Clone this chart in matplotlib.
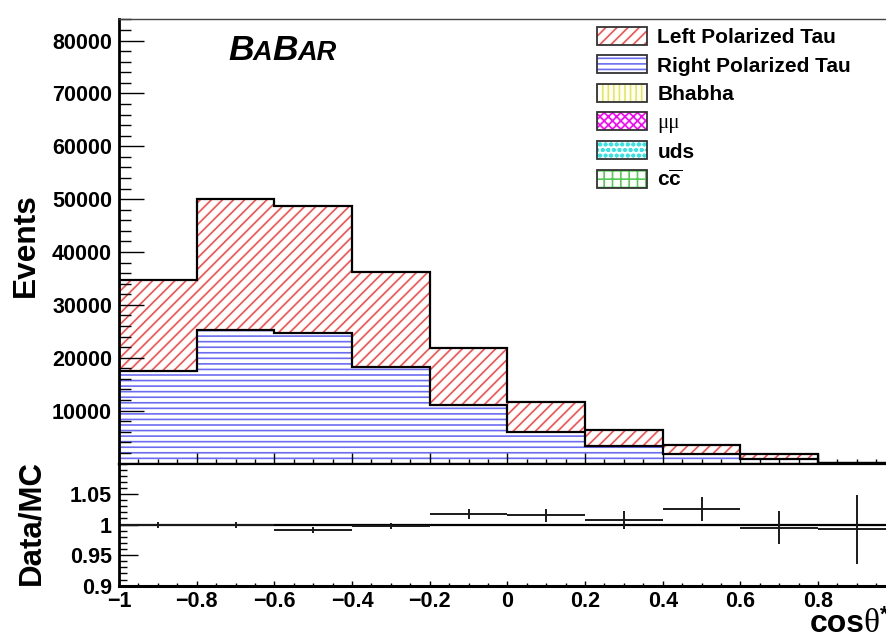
import numpy as np
import matplotlib
matplotlib.use("Agg")
import matplotlib.pyplot as plt
from matplotlib.patches import Patch
from matplotlib.legend_handler import HandlerTuple
from matplotlib.ticker import MultipleLocator, FixedLocator, FixedFormatter

# ---------------- data ----------------
bin_edges = [-1.0, -0.8, -0.6, -0.4, -0.2, 0.0, 0.2, 0.4, 0.6, 0.8, 1.0]
right_tau = [17556, 25255, 24750, 18313, 11010, 6020, 3370, 1800, 910, 50]
left_tau = [17158, 24785, 23960, 17907, 10780, 5560, 2970, 1760, 940, 50]
bhabha = [0, 0, 0, 0, 0, 0, 0, 0, 0, 0]
mumu = [0, 0, 0, 0, 0, 0, 0, 0, 0, 0]
uds = [0, 0, 0, 0, 0, 0, 0, 0, 0, 0]
ccbar = [0, 0, 0, 0, 0, 0, 0, 0, 0, 0]

ratio_x = [-0.9, -0.7, -0.5, -0.3, -0.1, 0.1, 0.3, 0.5, 0.7, 0.9]
ratio_y = [1.000, 0.9988, 0.9912, 0.9977, 1.0168, 1.0152, 1.0075, 1.0255, 0.9945, 0.9923]
ratio_err = [0.005, 0.005, 0.005, 0.0055, 0.0082, 0.011, 0.014, 0.019, 0.027, 0.056]

y_ticks = [10000, 20000, 30000, 40000, 50000, 60000, 70000, 80000]
y_ticklabels = ["10000", "20000", "30000", "40000", "50000", "60000", "70000", "80000"]
r_yticks = [0.9, 0.95, 1.0, 1.05]
r_yticklabels = ["0.9", "0.95", "1", "1.05"]
x_ticks = [-1.0, -0.8, -0.6, -0.4, -0.2, 0.0, 0.2, 0.4, 0.6, 0.8, 1.0]
x_ticklabels = ["\u22121", "\u22120.8", "\u22120.6", "\u22120.4", "\u22120.2", "0", "0.2", "0.4", "0.6", "0.8", ""]

legend_labels = ["Left Polarized Tau", "Right Polarized Tau", "Bhabha", "\u03bc\u03bc", "uds",
                 r"c$\overline{\mathrm{c}}$"]

# ---------------- style ----------------
plt.rcParams["font.family"] = ["Liberation Sans", "DejaVu Sans"]
plt.rcParams["font.weight"] = "bold"
plt.rcParams["hatch.linewidth"] = 1.2
plt.rcParams["mathtext.fontset"] = "custom"
plt.rcParams["mathtext.rm"] = "Liberation Sans:bold"
plt.rcParams["mathtext.bf"] = "Liberation Sans:bold"

RED = "#ff4d4d"
BLUE = "#6c6cf0"
YEL = "#e8e84a"
MAG = "#ff00ff"
CYA = "#33e5e5"
GRN = "#55cc55"

W, H = 886, 638
fig = plt.figure(figsize=(W / 100, H / 100), dpi=100)

x_left, x_right = 119, 895.7
top_y0, top_y1 = 463.5, 18.5
r_y0, r_y1 = 585.7, 463.5

ax = fig.add_axes([x_left / W, 1 - top_y0 / H, (x_right - x_left) / W, (top_y0 - top_y1) / H])
rax = fig.add_axes([x_left / W, 1 - r_y0 / H, (x_right - x_left) / W, (r_y0 - r_y1) / H], sharex=ax)

edges = np.array(bin_edges)
widths = np.diff(edges)
r = np.array(right_tau, float)
l = np.array(left_tau, float)
others = [np.array(a, float) for a in (bhabha, mumu, uds, ccbar)]
base = np.zeros_like(r)
for arr in others:
    base = base + arr

# stacked fills
ax.bar(edges[:-1], r, width=widths, bottom=base, align="edge", facecolor="white",
       edgecolor=BLUE, hatch="---", linewidth=0)
ax.bar(edges[:-1], l, width=widths, bottom=base + r, align="edge", facecolor="white",
       edgecolor=RED, hatch="///", linewidth=0)
# outlines
ax.stairs(base + r, edges, baseline=None, color="black", lw=1.6)
ax.stairs(base + r + l, edges, baseline=None, color="black", lw=1.6)

ax.set_xlim(-1, 1)
ax.set_ylim(0, (top_y0 - top_y1) / 52.86 * 10000)

ax.yaxis.set_major_locator(FixedLocator(y_ticks))
ax.yaxis.set_major_formatter(FixedFormatter(y_ticklabels))
ax.yaxis.set_minor_locator(MultipleLocator(2000))
ax.xaxis.set_major_locator(FixedLocator(x_ticks))
ax.xaxis.set_minor_locator(MultipleLocator(0.05))
ax.tick_params(axis="x", which="both", direction="in", labelbottom=False, width=1)
ax.tick_params(axis="x", which="major", length=8)
ax.tick_params(axis="x", which="minor", length=3.8)
ax.tick_params(axis="y", which="both", direction="in", width=1, labelsize=15.5, pad=5)
ax.tick_params(axis="y", which="major", length=18)
ax.tick_params(axis="y", which="minor", length=8.6)
for lab in ax.get_yticklabels():
    lab.set_fontweight("bold")
ax.spines["left"].set_linewidth(2.0)
ax.spines["bottom"].set_linewidth(1.6)
ax.spines["top"].set_linewidth(1.0)
ax.spines["top"].set_color("#444444")
ax.spines["right"].set_visible(False)

ax.set_ylabel("Events", fontsize=22.8, fontweight="bold")
ax.yaxis.set_label_coords((41 - x_left) / (x_right - x_left), 0.49)

# ---------------- ratio panel ----------------
rax.axhline(1.0, color="black", lw=1.6)
rax.errorbar(ratio_x, ratio_y, yerr=ratio_err, xerr=0.1, fmt="none", ecolor="#1a1a1a",
             elinewidth=1.4, capsize=0)
rax.set_ylim(0.9, 1.1)
rax.yaxis.set_major_locator(FixedLocator(r_yticks))
rax.yaxis.set_major_formatter(FixedFormatter(r_yticklabels))
rax.yaxis.set_minor_locator(MultipleLocator(0.01))
rax.xaxis.set_major_locator(FixedLocator(x_ticks))
rax.xaxis.set_major_formatter(FixedFormatter(x_ticklabels))
rax.xaxis.set_minor_locator(MultipleLocator(0.05))
rax.tick_params(axis="both", which="both", direction="in", width=1, labelsize=15.5)
rax.tick_params(axis="x", which="major", length=3.5, pad=4)
rax.tick_params(axis="x", which="minor", length=2)
rax.tick_params(axis="y", which="major", length=14, pad=5)
rax.tick_params(axis="y", which="minor", length=6)
for lab in rax.get_xticklabels() + rax.get_yticklabels():
    lab.set_fontweight("bold")
rax.spines["left"].set_linewidth(2.0)
rax.spines["bottom"].set_linewidth(2.2)
rax.spines["top"].set_linewidth(1.6)
rax.spines["right"].set_visible(False)
rax.set_ylabel("Data/MC", fontsize=22.5, fontweight="bold")
rax.yaxis.set_label_coords((46 - x_left) / (x_right - x_left), 0.52)

# ---------------- legend ----------------
specs = [(RED, "///"), (BLUE, "---"), (YEL, "|||"), (MAG, "xxxx"), (CYA, "ooo"), (GRN, "++")]
handles = []
for c, h in specs:
    handles.append((Patch(facecolor="white", edgecolor=c, hatch=h, linewidth=0),
                    Patch(facecolor="none", edgecolor="#333333", linewidth=1.3)))
leg = fig.legend(handles, legend_labels, handler_map={tuple: HandlerTuple(ndivide=1, pad=0)},
                 loc="upper left", bbox_to_anchor=(597 / W, 1 - 27 / H), frameon=False,
                 fontsize=15, handlelength=2.4, handleheight=0.96, handletextpad=0.5,
                 labelspacing=0.39, borderpad=0, borderaxespad=0)
for t in leg.get_texts():
    t.set_fontweight("bold")
mu = leg.get_texts()[3]
mu.set_fontfamily(["Liberation Serif", "DejaVu Serif"])
mu.set_fontweight("normal")

# ---------------- BaBar logo ----------------
fig.canvas.draw()
renderer = fig.canvas.get_renderer()
pieces = [("B", 25.5), ("A", 19.5), ("B", 25.5), ("AR", 19.5)]
xpos = 228.0
for s, fs in pieces:
    t = fig.text(xpos / W, 1 - 59.5 / H, s, fontsize=fs, fontweight="bold", fontstyle="italic",
                 va="baseline", ha="left")
    bb = t.get_window_extent(renderer)
    xpos += bb.width - 0.5

# ---------------- x label ----------------
xpos = 810.0
for s, fam, fs, dy, gap in [("cos", ["Liberation Sans"], 23, 0, -1.5),
                            ("\u03b8", ["Liberation Serif"], 24, 0, 0),
                            ("*", ["Liberation Sans"], 16, 11, 0)]:
    t = fig.text(xpos / W, 1 - (632 - dy) / H, s, fontsize=fs,
                 fontweight="bold" if fam[0] == "Liberation Sans" else "normal",
                 family=fam, va="baseline", ha="left")
    bb = t.get_window_extent(renderer)
    xpos += bb.width + gap

fig.savefig("out.png", dpi=100)
